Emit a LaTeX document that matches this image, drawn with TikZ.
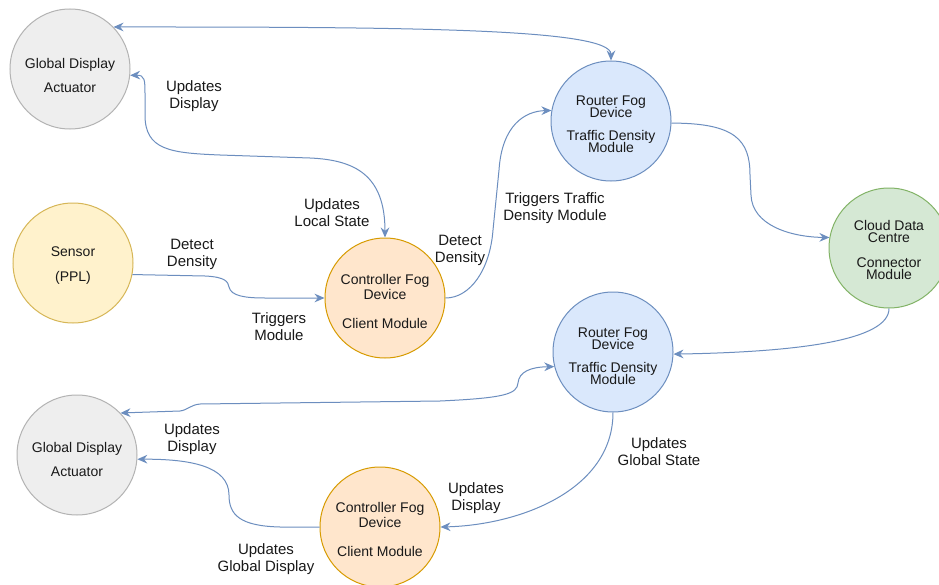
\documentclass[tikz,border=0pt]{standalone}
\usepackage{fontspec}
\setmainfont{Liberation Sans}
\usetikzlibrary{arrows.meta}
\definecolor{edgeblue}{HTML}{6C8EBF}
\definecolor{grayfill}{HTML}{EEEEEE}
\definecolor{grayline}{HTML}{B3B3B3}
\definecolor{yelfill}{HTML}{FFF2CC}
\definecolor{yelline}{HTML}{D6B656}
\definecolor{orfill}{HTML}{FFE6CC}
\definecolor{orline}{HTML}{D79B00}
\definecolor{bluefill}{HTML}{DAE8FC}
\definecolor{blueline}{HTML}{6C8EBF}
\definecolor{grfill}{HTML}{D5E8D4}
\definecolor{grline}{HTML}{82B366}
\newcommand\myNodeFont{\fontsize{10.5pt}{8.9pt}\selectfont\lineskiplimit=-20pt\relax}
\newcommand\myLblFont{\fontsize{11.25pt}{12.75pt}\selectfont\lineskiplimit=-20pt\relax}
\tikzset{
  circ/.style={circle, minimum size=90pt, inner sep=0pt, line width=0.75pt},
  graycirc/.style={circ, draw=grayline, fill=grayfill},
  yelcirc/.style={circ, draw=yelline, fill=yelfill},
  orcirc/.style={circ, draw=orline, fill=orfill},
  bluecirc/.style={circ, draw=blueline, fill=bluefill},
  grcirc/.style={circ, draw=grline, fill=grfill},
  ntext/.style={align=center, font=\myNodeFont, inner sep=0pt, text=black!90},
  lbl/.style={align=center, font=\myLblFont, inner sep=0pt, text=black!90},
  tip/.tip={Stealth[length=7.5pt,width=6.5pt,inset=2.5pt]},
  conn/.style={draw=edgeblue, line width=0.75pt, -tip},
  bothconn/.style={draw=edgeblue, line width=0.75pt, tip-tip},
}
\begin{document}
\begin{tikzpicture}[x=0.75pt,y=-0.75pt]
\fill[white] (0,0) rectangle (939,585);
\useasboundingbox (0,0) rectangle (939,585);

% nodes
\node[graycirc, label={[ntext, name=gd1t, yshift=-4.6pt]center:{Global Display\\[9.1pt]Actuator}}] (gd1) at (70,69) {};
\node[bluecirc, label={[ntext, name=r1t, yshift=-2.2pt]center:{Router Fog\\Device\\[8.5pt]Traffic Density\\Module}}] (r1) at (611,121) {};
\node[yelcirc, label={[ntext, name=sent, yshift=-1.6pt]center:{Sensor\\[9.9pt](PPL)}}] (sen) at (73,263) {};
\node[orcirc, label={[ntext, name=c1t, yshift=-2.3pt]center:{Controller Fog\\[2.4pt]Device\\[12.9pt]Client Module}}] (c1) at (385,298) {};
\node[grcirc, label={[ntext, name=cloudt, yshift=-1.4pt]center:{Cloud Data\\Centre\\[9.5pt]Connector\\Module}}] (cloud) at (889,248) {};
\node[bluecirc, label={[ntext, name=r2t, yshift=-3pt]center:{Router Fog\\Device\\[8.5pt]Traffic Density\\Module}}] (r2) at (613,352) {};
\node[graycirc, label={[ntext, name=gd2t, yshift=-3.2pt]center:{Global Display\\[9.1pt]Actuator}}] (gd2) at (77,455) {};
\node[orcirc, label={[ntext, name=c2t, yshift=-1.6pt]center:{Controller Fog\\[2.4pt]Device\\[12.9pt]Client Module}}] (c2) at (380,527) {};

% connectors
\draw[bothconn] (gd1.44) .. controls (400,27) and (611,28) .. (r1.north);
\draw[bothconn] (gd1.-6) .. controls (145,75) and (145,80) .. (145,95) -- (145,115)
  .. controls (145,150) and (170,153) .. (220,155) -- (310,158)
  .. controls (355,160) and (385,175) .. (c1.north);
\draw[conn] (sen.-11) -- (205,276) .. controls (226,277) and (228,282) .. (229,287)
  .. controls (231,296) and (245,298) .. (265,298) -- (c1.west);
\draw[conn] (c1.east) .. controls (470,298) and (490,270) .. (493,230) -- (499,170)
  .. controls (502,125) and (525,111) .. (r1.170);
\draw[conn] (r1.-2) .. controls (735,123) and (750,140) .. (750,175) -- (751,195)
  .. controls (752,225) and (790,237) .. (cloud.170);
\draw[conn] (cloud.south) .. controls (889,340) and (800,352) .. (r2.-2);
\draw[bothconn] (gd2.44) -- (180,411) .. controls (188,410) and (190,405) .. (200,404)
  -- (440,401) .. controls (505,398) and (517,394) .. (518,383)
  .. controls (519,372) and (530,367) .. (r2.194);
\draw[conn] (r2.south) .. controls (613,490) and (520,525) .. (c2.east);
\draw[conn] (c2.west) -- (280,527) .. controls (240,526) and (229,515) .. (229,495)
  .. controls (229,466) and (190,459) .. (gd2.-4);

% edge labels
\node[lbl] (l1) at (194,96) {Updates\\Display};
\node[lbl] (l2) at (332,213) {Updates\\Local State};
\node[lbl] (l3) at (192,254) {Detect\\Density};
\node[lbl] (l4) at (279,327) {Triggers\\Module};
\node[lbl] (l5) at (460,250) {Detect\\Density};
\node[lbl] (l6) at (555,208) {Triggers Traffic\\Density Module};
\node[lbl] (l7) at (192,439) {Updates\\Display};
\node[lbl] (l8) at (266,559) {Updates\\Global Display};
\node[lbl] (l9) at (476,498) {Updates\\Display};
\node[lbl] (l10) at (659,452) {Updates\\Global State};
\end{tikzpicture}
\end{document}
